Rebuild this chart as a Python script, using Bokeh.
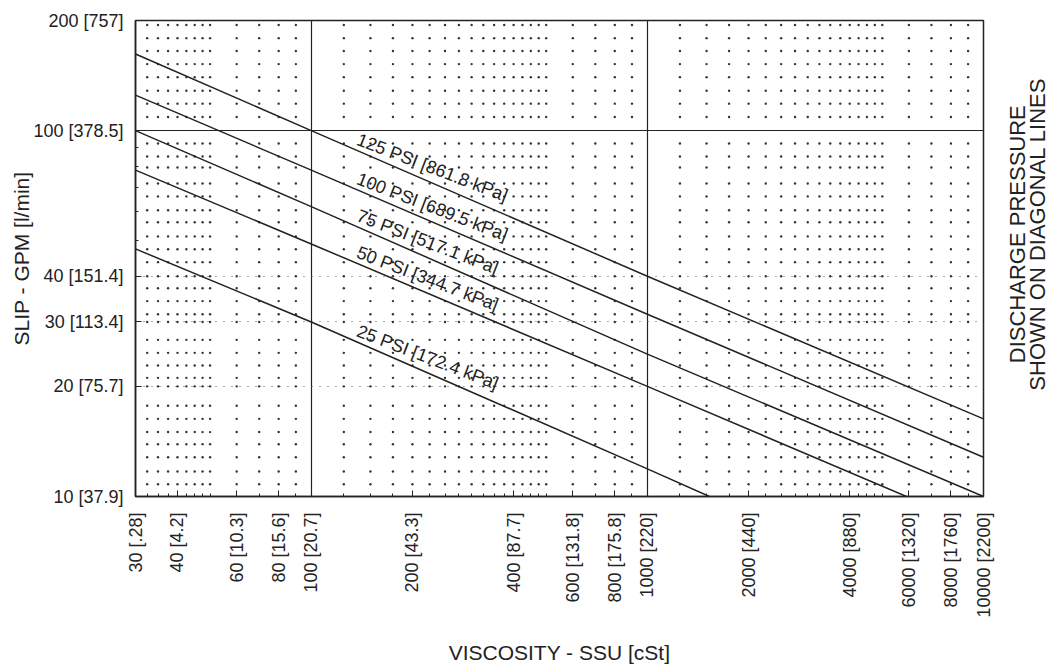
import math
import numpy as np
from bokeh.plotting import figure
from bokeh.layouts import row
from bokeh.models import Range1d, FixedTicker, Grid
from bokeh.core.properties import value
from bokeh.embed import file_html
from bokeh.resources import INLINE

# ---------------- data ----------------
x_tick_values = [30, 40, 60, 80, 100, 200, 400, 600, 800, 1000, 2000, 4000, 6000, 8000, 10000]
x_tick_labels = ["30 [.28]", "40 [4.2]", "60 [10.3]", "80 [15.6]", "100 [20.7]",
                 "200 [43.3]", "400 [87.7]", "600 [131.8]", "800 [175.8]", "1000 [220]",
                 "2000 [440]", "4000 [880]", "6000 [1320]", "8000 [1760]", "10000 [2200]"]
y_tick_values = [10, 20, 30, 40, 100, 200]
y_tick_labels = ["10 [37.9]", "20 [75.7]", "30 [113.4]", "40 [151.4]", "100 [378.5]", "200 [757]"]
y_minor_ticks = [50, 60, 70, 80, 90]

x_dot_columns = [32.5, 35, 37.5, 40, 42.5, 45, 47.5, 50, 60, 70, 80, 90,
                 125, 150, 175, 200, 225, 250, 275, 300, 325, 350, 375, 400, 425, 450, 475, 500,
                 600, 700, 800, 900,
                 1250, 1500, 1750, 2000, 2250, 2500, 2750, 3000, 3250, 3500, 3750, 4000,
                 4250, 4500, 4750, 5000, 6000, 7000, 8000, 9000]
y_dot_rows = [10.8, 11.7, 12.8, 13.9, 15.0, 16.3, 17.7, 20, 21.1, 22.8, 24.7, 26.8, 30,
              31.5, 34.2, 37.1, 40, 43.7, 47.4, 51.4, 56.2, 60.6, 66.1, 71.7, 79.3, 85.0,
              92.2, 109, 118.5, 128.5, 140, 152, 165, 179, 194.5]
y_dotted_rows = [20, 30, 40]
x_major_grid = [100, 1000]
y_major_grid = [100]

psi_labels = ["125 PSI [861.8 kPa]", "100 PSI [689.5 kPa]", "75 PSI [517.1 kPa]",
              "50 PSI [344.7 kPa]", "25 PSI [172.4 kPa]"]
line_x = [[30, 100, 1000, 10000],
          [30, 100, 1000, 10000],
          [30, 100, 1000, 10000],
          [30, 100, 1000, 5900],
          [30, 100, 1000, 1530]]
line_y = [[162, 100, 40, 16.3],
          [125, 78, 31.5, 12.8],
          [100, 62, 24.5, 10],
          [78, 49, 20, 10],
          [47.5, 30, 11.9, 10]]
label_x = [134, 134, 134, 134, 134]

note_lines = ["DISCHARGE PRESSURE", "SHOWN ON DIAGONAL LINES"]

# ---------------- figure ----------------
FONT = "Liberation Sans"
INK = "#222222"
H = 666

p = figure(width=1000, height=H, x_axis_type="log", y_axis_type="log",
           x_range=Range1d(30, 10000), y_range=Range1d(10, 200),
           output_backend="svg", toolbar_location=None,
           min_border_left=135, min_border_right=17, min_border_top=20, min_border_bottom=167,
           background_fill_color="white", border_fill_color="white")
p.outline_line_color = INK
p.outline_line_width = 1.5

# grids
p.xgrid.ticker = FixedTicker(ticks=x_major_grid)
p.ygrid.ticker = FixedTicker(ticks=y_major_grid)
for g in (p.xgrid, p.ygrid):
    g.grid_line_color = INK
    g.grid_line_width = 1.2
    g.grid_line_alpha = 1.0
    g.minor_grid_line_color = None

dotted = Grid(dimension=1, ticker=FixedTicker(ticks=y_dotted_rows),
              grid_line_color="#555555", grid_line_dash="1 7", grid_line_width=1)
p.add_layout(dotted)

# dot screen
gx, gy = np.meshgrid(np.array(x_dot_columns, dtype=float), np.array(y_dot_rows, dtype=float))
p.scatter(gx.ravel(), gy.ravel(), size=2.4, marker="circle",
          fill_color="#333333", line_color=None)

# diagonal lines
for xs, ys in zip(line_x, line_y):
    p.line(xs, ys, line_color=INK, line_width=1.5)

def on_line(xs, ys, xq):
    return 10 ** np.interp(np.log10(xq), np.log10(xs), np.log10(ys))

lift = 10 ** (1 / 368.0)   # sit just above the line
label_y = [float(on_line(xs, ys, lx)) * lift for xs, ys, lx in zip(line_x, line_y, label_x)]
p.text(x=label_x, y=label_y, text=psi_labels, angle=-21, angle_units="deg",
       text_font=value(FONT), text_font_size=value("18px"), text_color=INK,
       text_align="left", text_baseline="bottom")

# axes
xa = p.xaxis[0]
xa.ticker = FixedTicker(ticks=x_tick_values, minor_ticks=x_dot_columns)
xa.major_label_overrides = {v: t for v, t in zip(x_tick_values, x_tick_labels)}
xa.major_label_orientation = math.pi / 2
xa.major_label_standoff = 16
xa.axis_label = "VISCOSITY - SSU [cSt]"
xa.axis_label_standoff = 20

ya = p.yaxis[0]
ya.ticker = FixedTicker(ticks=y_tick_values, minor_ticks=y_minor_ticks)
ya.major_label_overrides = {v: t for v, t in zip(y_tick_values, y_tick_labels)}
ya.major_label_standoff = 12
ya.axis_label = "SLIP - GPM [l/min]"
ya.axis_label_standoff = -3

for ax in (xa, ya):
    ax.axis_line_color = INK
    ax.axis_line_width = 1.5
    ax.major_tick_in = 6
    ax.major_tick_out = 0
    ax.minor_tick_in = 3
    ax.minor_tick_out = 0
    ax.major_tick_line_color = INK
    ax.minor_tick_line_color = INK
    ax.major_label_text_font = FONT
    ax.major_label_text_font_size = "18px"
    ax.major_label_text_color = INK
    ax.axis_label_text_font = FONT
    ax.axis_label_text_font_size = "21px"
    ax.axis_label_text_font_style = "normal"
    ax.axis_label_text_color = INK

# right-hand note (separate narrow panel so that the text is not clipped)
q = figure(width=50, height=H, x_range=Range1d(0, 50), y_range=Range1d(0, H),
           output_backend="svg", toolbar_location=None,
           x_axis_location=None, y_axis_location=None, min_border=0,
           background_fill_color="white", border_fill_color="white")
q.outline_line_color = None
q.xgrid.visible = False
q.ygrid.visible = False
q.text(x=[17, 37], y=[H - 299, H - 299], text=note_lines, angle=90, angle_units="deg",
       text_font=value(FONT), text_font_size=value("22px"), text_color=INK,
       text_align="center", text_baseline="middle")

layout = row(p, q, spacing=0)
open("out.html", "w").write(file_html(layout, INLINE))
